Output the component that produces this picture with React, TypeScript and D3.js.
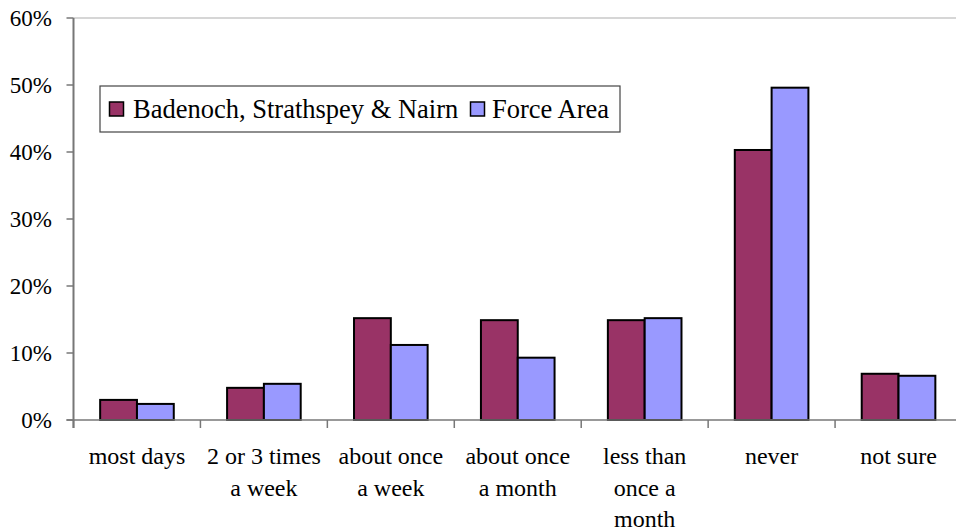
import React from "react";
import * as d3 from "d3";

const categories = [
  ["most days"],
  ["2 or 3 times", "a week"],
  ["about once", "a week"],
  ["about once", "a month"],
  ["less than", "once a", "month"],
  ["never"],
  ["not sure"],
];
const seriesNames = ["Badenoch, Strathspey & Nairn", "Force Area"];
const bsn = [3.0, 4.8, 15.2, 14.9, 14.9, 40.3, 6.9];
const forceArea = [2.4, 5.4, 11.2, 9.3, 15.2, 49.6, 6.6];
const yTicks = [0, 10, 20, 30, 40, 50, 60];
const colors = ["#993366", "#9999FF"];

const W = 956;
const H = 532;
const left = 73.5;
const right = 962;
const top = 18;
const bottom = 420;
const FONT = "'Liberation Serif', Tinos, 'Times New Roman', 'Nimbus Roman', 'DejaVu Serif', serif";

export default function App() {
  const idx = categories.map((_, i) => String(i));
  const x = d3.scaleBand<string>().domain(idx).range([left, right]).paddingInner(0).paddingOuter(0);
  const y = d3.scaleLinear().domain([0, 60]).range([bottom, top]);
  const series = [bsn, forceArea];
  const groupW = x.bandwidth() * 0.58;
  const offset = (x.bandwidth() - groupW) / 2;
  const barW = groupW / 2;

  return (
    <svg width={W} height={H} style={{ position: "absolute", left: 0, top: 0, background: "#fff", fontFamily: FONT }}>
      <rect x={0} y={0} width={W} height={H} fill="#fff" />
      <line x1={left} x2={W} y1={top} y2={top} stroke="#c8c8c8" strokeWidth={1.5} />
      {series.map((vals, s) =>
        vals.map((v, i) => (
          <rect
            key={`${s}-${i}`}
            x={(x(String(i)) as number) + offset + s * barW}
            y={y(v)}
            width={barW}
            height={y(0) - y(v)}
            fill={colors[s]}
            stroke="#000"
            strokeWidth={2}
          />
        ))
      )}
      <line x1={left} x2={left} y1={top} y2={bottom + 8} stroke="#777" strokeWidth={2} />
      {yTicks.map((t) => (
        <g key={t}>
          <line x1={left - 7} x2={left} y1={y(t)} y2={y(t)} stroke="#777" strokeWidth={1.5} />
          <text x={52} y={y(t) + 7.5} textAnchor="end" fontSize={23} fill="#000">
            {t}%
          </text>
        </g>
      ))}
      <line x1={left - 7} x2={W} y1={bottom} y2={bottom} stroke="#777" strokeWidth={1.5} />
      {idx.map((d) => (
        <line key={d} x1={x(d) as number} x2={x(d) as number} y1={bottom} y2={bottom + 8} stroke="#777" strokeWidth={1.5} />
      ))}
      {categories.map((lines, i) => (
        <text key={i} textAnchor="middle" fontSize={24} fill="#000">
          {lines.map((ln, j) => (
            <tspan key={j} x={(x(String(i)) as number) + x.bandwidth() / 2} y={464 + j * 31.5}>
              {ln}
            </tspan>
          ))}
        </text>
      ))}
      <rect x={100} y={86} width={520} height={46} fill="#fff" stroke="#444" strokeWidth={1.2} />
      <rect x={109.5} y={102} width={14} height={14} fill={colors[0]} stroke="#000" strokeWidth={1.5} />
      <text x={133} y={117.5} fontSize={26.5} fill="#000">{seriesNames[0]}</text>
      <rect x={470.5} y={102} width={14} height={14} fill={colors[1]} stroke="#000" strokeWidth={1.5} />
      <text x={492} y={117.5} fontSize={26.5} fill="#000">{seriesNames[1]}</text>
    </svg>
  );
}
